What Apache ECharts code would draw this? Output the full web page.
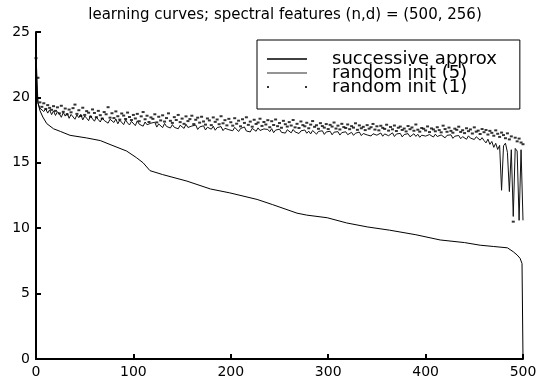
<!DOCTYPE html>
<html>
<head>
<meta charset="utf-8">
<title>learning curves</title>
<script src="https://cdn.jsdelivr.net/npm/echarts@6/dist/echarts.min.js"></script>
<style>
  html, body { margin: 0; padding: 0; background: #fff; }
  #chart { width: 542px; height: 381px; }
</style>
</head>
<body>
<div id="chart"></div>
<script>
// successive approx: smooth curve, read at a few x positions
const succX = [0, 1, 2, 4, 7, 11, 18, 25, 35, 52, 66, 76, 93, 103, 110, 117, 130, 155, 179, 199, 227, 243, 268, 278, 299, 319, 340, 363, 390, 415, 440, 456, 470, 484, 490, 494, 497, 499, 500]
const succY = [23.3, 20.5, 19.6, 19.0, 18.5, 18.0, 17.6, 17.4, 17.1, 16.9, 16.7, 16.4, 15.9, 15.4, 15.0, 14.4, 14.1, 13.6, 13.0, 12.7, 12.2, 11.8, 11.15, 11.0, 10.8, 10.4, 10.1, 9.85, 9.5, 9.1, 8.9, 8.7, 8.6, 8.5, 8.2, 7.95, 7.7, 7.3, 0]

// random init: one value every 2 iterations, x = 0, 2, 4 ... 500
const stepX = 2
const rand5 = [
  23.3, 19.55, 19.18, 19.30, 18.92, 19.12, 18.80, 19.05, 18.68, 18.97,
  18.62, 18.91, 18.74, 18.48, 18.85, 18.57, 18.79, 18.40, 18.70, 18.55,
  18.33, 18.66, 18.45, 18.71, 18.28, 18.58, 18.41, 18.22, 18.60, 18.36,
  18.18, 18.49, 18.30, 18.12, 18.44, 18.24, 18.38, 18.03, 18.33, 18.19,
  18.08, 18.35, 17.98, 18.26, 18.14, 17.92, 18.29, 18.05, 17.89, 18.17,
  18.02, 17.84, 18.21, 17.95, 18.08, 17.80, 18.12, 17.91, 17.76, 18.03,
  17.88, 18.10, 17.73, 17.97, 17.83, 17.69, 18.01, 17.78, 17.90, 17.66,
  17.92, 17.71, 17.84, 17.60, 17.87, 17.75, 17.63, 17.95, 17.70, 17.58,
  17.81, 17.66, 17.89, 17.55, 17.74, 17.62, 17.83, 17.51, 17.72, 17.68,
  17.57, 17.80, 17.49, 17.69, 17.61, 17.77, 17.46, 17.64, 17.73, 17.53,
  17.66, 17.45, 17.71, 17.56, 17.39, 17.62, 17.50, 17.74, 17.43, 17.58,
  17.36, 17.63, 17.52, 17.41, 17.67, 17.47, 17.34, 17.59, 17.44, 17.55,
  17.38, 17.61, 17.30, 17.50, 17.42, 17.57, 17.33, 17.46, 17.27, 17.53,
  17.40, 17.29, 17.55, 17.36, 17.48, 17.24, 17.44, 17.35, 17.51, 17.26,
  17.42, 17.21, 17.47, 17.33, 17.19, 17.40, 17.30, 17.45, 17.17, 17.36,
  17.28, 17.41, 17.14, 17.34, 17.25, 17.38, 17.12, 17.31, 17.22, 17.37,
  17.15, 17.29, 17.33, 17.10, 17.26, 17.18, 17.35, 17.08, 17.24, 17.30,
  17.13, 17.27, 17.05, 17.22, 17.31, 17.11, 17.19, 17.28, 17.03, 17.21,
  17.26, 17.07, 17.17, 17.29, 17.01, 17.20, 17.12, 17.25, 16.98, 17.16,
  17.09, 17.23, 16.99, 17.14, 17.22, 17.02, 17.18, 16.95, 17.11, 17.20,
  17.04, 16.93, 17.16, 17.08, 16.97, 17.19, 17.01, 16.90, 17.13, 17.05,
  16.91, 17.10, 16.98, 17.14, 16.87, 17.03, 16.95, 17.09, 16.84, 17.00,
  16.93, 16.80, 17.06, 16.89, 16.97, 16.78, 16.99, 16.85, 16.73, 16.92,
  16.70, 16.52, 16.81, 16.41, 16.63, 16.18, 16.49, 16.02, 16.33, 12.9,
  16.3, 16.5, 15.8, 12.8, 16.0, 10.9, 16.1, 15.9, 10.6, 16.0,
  10.6
]
const rand1 = [
  23.0, 21.5, 19.62, 19.28, 19.55, 19.12, 19.41, 19.20, 19.05, 19.33,
  18.97, 19.24, 18.78, 19.36, 18.90, 19.15, 18.70, 19.07, 18.86, 19.18,
  19.45, 18.74, 19.02, 18.58, 19.21, 18.66, 18.95, 18.83, 18.52, 19.08,
  18.81, 18.49, 18.97, 18.64, 18.38, 18.88, 18.71, 19.25, 18.45, 18.79,
  18.42, 18.93, 18.56, 18.30, 18.77, 18.61, 18.35, 18.84, 18.50, 18.27,
  18.66, 18.39, 18.74, 18.18, 18.55, 18.88, 18.33, 18.60, 18.12, 18.47,
  18.36, 18.71, 18.09, 18.52, 18.24, 18.63, 18.15, 18.42, 18.78, 18.21,
  18.05, 18.49, 18.27, 18.66, 18.11, 18.38, 17.98, 18.55, 18.19, 18.34,
  18.60, 17.96, 18.29, 18.45, 18.07, 18.52, 18.16, 17.92, 18.39, 18.24,
  17.88, 18.47, 18.13, 18.31, 17.95, 18.56, 18.02, 18.26, 17.86, 18.36,
  18.10, 17.84, 18.41, 17.99, 18.22, 17.79, 18.33, 18.05, 18.48, 17.90,
  18.15, 17.76, 18.29, 17.97, 18.08, 18.37, 17.82, 18.12, 17.93, 18.26,
  17.72, 18.18, 17.89, 18.31, 17.80, 18.04, 17.68, 18.21, 17.95, 17.77,
  18.11, 17.85, 18.27, 17.71, 17.98, 17.66, 18.16, 17.88, 17.79, 18.06,
  17.64, 17.92, 18.19, 17.75, 17.87, 17.60, 18.03, 17.81, 17.69, 17.96,
  17.58, 17.90, 17.77, 18.08, 17.62, 17.84, 17.55, 17.98, 17.73, 17.66,
  17.93, 17.57, 17.80, 17.69, 18.02, 17.52, 17.86, 17.64, 17.75, 17.50,
  17.88, 17.61, 17.72, 17.97, 17.54, 17.79, 17.48, 17.83, 17.67, 17.59,
  17.91, 17.46, 17.74, 17.56, 17.85, 17.43, 17.68, 17.77, 17.51, 17.62,
  17.40, 17.81, 17.57, 17.70, 17.45, 17.93, 17.53, 17.38, 17.66, 17.60,
  17.47, 17.78, 17.35, 17.63, 17.55, 17.41, 17.72, 17.50, 17.33, 17.84,
  17.58, 17.37, 17.69, 17.44, 17.30, 17.61, 17.52, 17.76, 17.36, 17.49,
  17.27, 17.64, 17.42, 17.55, 17.24, 17.71, 17.38, 17.46, 17.20, 17.58,
  17.34, 17.51, 17.16, 17.44, 17.29, 17.07, 17.48, 17.22, 16.98, 17.31,
  17.12, 16.88, 17.25, 16.79, 17.02, 10.5, 16.92, 16.64, 16.85, 16.55,
  16.42
]

const xTicks = { min: 0, max: 500, interval: 100 }
const yTicks = { min: 0, max: 25, interval: 5 }

const font = 'DejaVu Sans'

function pairs(xs, ys) {
  return ys.map((v, i) => [xs[i], v])
}
function stepPairs(ys) {
  return ys.map((v, i) => [i * stepX, v])
}

const chart = echarts.init(document.getElementById('chart'))

function makeAxis(ticks) {
  return Object.assign({ type: 'value' }, ticks, {
    axisLine: { show: true, onZero: false, lineStyle: { color: '#000', width: 2 } },
    // negative length turns the ticks towards the plot
    axisTick: { show: true, inside: false, length: -5, lineStyle: { color: '#000', width: 2 } },
    axisLabel: { color: '#000', fontFamily: font, fontSize: 14, margin: 6 },
    splitLine: { show: false }
  })
}

// thin bar for the line samples, two dots for the scatter sample
const lineIcon = 'path://M0,0h40v1.5h-40z'
const dotIcon = 'path://M0,0h2v2h-2zM38,0h2v2h-2z'

const option = {
  animation: false,
  backgroundColor: '#fff',
  title: {
    text: 'learning curves; spectral features (n,d) = (500, 256)',
    left: 280,
    textAlign: 'center',
    top: 3,
    textStyle: { color: '#000', fontFamily: font, fontSize: 15, fontWeight: 'normal' }
  },
  legend: {
    orient: 'vertical',
    left: 257,
    top: 40,
    padding: [10, 23, 13, 10],
    itemWidth: 40,
    itemHeight: 14,
    itemGap: -4,
    backgroundColor: '#fff',
    borderColor: '#000',
    borderWidth: 1,
    borderRadius: 0,
    symbolKeepAspect: true,
    textStyle: { color: '#000', fontFamily: font, fontSize: 18, padding: [0, 0, 0, 20] },
    data: [
      { name: 'successive approx', icon: lineIcon },
      { name: 'random init (5)', icon: lineIcon },
      { name: 'random init (1)', icon: dotIcon }
    ]
  },
  grid: { left: 36, right: 19, top: 32, bottom: 22 },
  xAxis: makeAxis(xTicks),
  yAxis: makeAxis(yTicks),
  series: [
    {
      name: 'random init (5)',
      type: 'line',
      data: stepPairs(rand5),
      symbol: 'none',
      showSymbol: false,
      sampling: null,
      lineStyle: { color: '#111', width: 1 },
      itemStyle: { color: '#707070' },
      z: 2
    },
    {
      name: 'successive approx',
      type: 'line',
      data: pairs(succX, succY),
      symbol: 'none',
      showSymbol: false,
      lineStyle: { color: '#000', width: 1 },
      itemStyle: { color: '#000' },
      z: 3
    },
    {
      name: 'random init (1)',
      type: 'scatter',
      data: stepPairs(rand1),
      symbol: 'rect',
      symbolSize: [3, 2],
      itemStyle: { color: '#000' },
      z: 4
    }
  ]
}

chart.setOption(option)
</script>
</body>
</html>
